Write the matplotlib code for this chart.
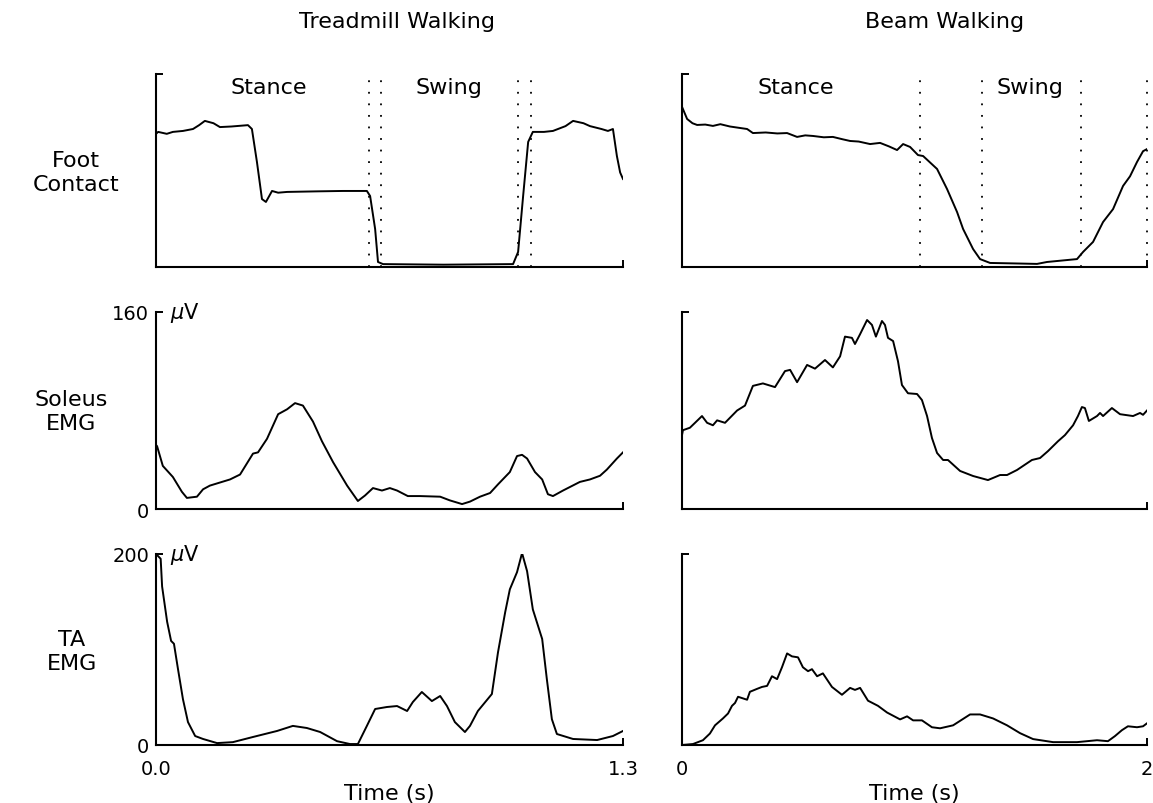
import numpy as np
import matplotlib
matplotlib.use("Agg")
import matplotlib.pyplot as plt
import matplotlib.transforms as mtransforms

plt.rcParams['font.family'] = ['DejaVu Sans']

# ---------------- data ----------------
# Treadmill walking, 0 - 1.3 s
tm_foot_t = [0.0, 0.006, 0.030, 0.047, 0.075, 0.103, 0.120, 0.136, 0.160, 0.178, 0.210, 0.256, 0.267,
             0.281, 0.295, 0.306, 0.323, 0.340, 0.365, 0.450, 0.520, 0.587, 0.596, 0.610, 0.618,
             0.632, 0.800, 0.994, 1.008, 1.022, 1.036, 1.049, 1.080, 1.105, 1.140, 1.161, 1.190,
             1.208, 1.240, 1.258, 1.272, 1.283, 1.292, 1.300]
tm_foot = [0.69, 0.70, 0.69, 0.70, 0.705, 0.715, 0.735, 0.757, 0.745, 0.725, 0.728, 0.735, 0.715,
           0.544, 0.352, 0.337, 0.394, 0.385, 0.389, 0.392, 0.394, 0.394, 0.368, 0.197, 0.026,
           0.015, 0.012, 0.015, 0.078, 0.368, 0.648, 0.700, 0.700, 0.705, 0.730, 0.757, 0.745,
           0.730, 0.715, 0.705, 0.715, 0.575, 0.490, 0.456]

tm_sol_t = [0.0, 0.003, 0.019, 0.047, 0.072, 0.086, 0.114, 0.131, 0.150, 0.206, 0.234, 0.270,
            0.284, 0.309, 0.340, 0.365, 0.387, 0.409, 0.437, 0.462, 0.493, 0.532, 0.562, 0.582,
            0.604, 0.629, 0.651, 0.671, 0.701, 0.735, 0.791, 0.818, 0.852, 0.874, 0.902, 0.930,
            0.952, 0.985, 1.005, 1.019, 1.033, 1.055, 1.075, 1.091, 1.105, 1.133, 1.180, 1.208,
            1.236, 1.255, 1.283, 1.300]
tm_sol = [52, 51, 35, 26, 14, 9, 10, 16, 19, 24, 28, 45,
          46, 57, 77, 81, 86, 84, 71, 55, 38, 19, 6.5, 11,
          17, 15, 17, 15, 10.5, 10.5, 10, 7, 4, 6, 10, 13,
          20, 30, 43, 44, 41, 30, 24, 12, 10.5, 15, 22, 24,
          27, 32, 41, 46]

tm_ta_t = [0.0, 0.013, 0.017, 0.031, 0.042, 0.050, 0.061, 0.075, 0.089, 0.109, 0.131, 0.170,
           0.214, 0.270, 0.337, 0.381, 0.420, 0.457, 0.504, 0.540, 0.562, 0.587, 0.610, 0.643,
           0.671, 0.699, 0.715, 0.740, 0.768, 0.791, 0.810, 0.832, 0.860, 0.874, 0.896, 0.935,
           0.952, 0.972, 0.985, 1.005, 1.019, 1.033, 1.049, 1.075, 1.088, 1.102, 1.116, 1.161,
           1.228, 1.272, 1.300]
tm_ta = [200, 195, 166, 129, 109, 106, 80, 48, 24, 9.4, 6.3, 2,
         3, 8.4, 14.7, 20, 17.8, 13.6, 4, 1, 1, 20, 37.7, 39.8,
         40.8, 35.6, 45, 55.5, 46, 51.3, 40.8, 24, 13.6, 20, 35.6, 53.4,
         97, 139, 163, 181, 201, 182, 142, 111, 69, 27, 11.5, 6.3,
         5.2, 9.4, 14.7]

# Beam walking, 0 - 2 s
bm_foot_t = [0.0, 0.022, 0.045, 0.065, 0.100, 0.133, 0.165, 0.206, 0.240, 0.280, 0.305, 0.360,
             0.410, 0.452, 0.495, 0.530, 0.563, 0.610, 0.649, 0.690, 0.723, 0.760, 0.809, 0.852,
             0.890, 0.925, 0.951, 0.981, 1.015, 1.037, 1.097, 1.140, 1.183, 1.209, 1.252, 1.282,
             1.325, 1.450, 1.527, 1.570, 1.699, 1.725, 1.768, 1.811, 1.854, 1.897, 1.927, 1.957,
             1.983, 2.0]
bm_foot = [0.83, 0.767, 0.745, 0.736, 0.738, 0.731, 0.740, 0.728, 0.722, 0.715, 0.694, 0.697,
           0.692, 0.694, 0.674, 0.682, 0.679, 0.672, 0.674, 0.662, 0.653, 0.650, 0.637, 0.643,
           0.625, 0.606, 0.637, 0.622, 0.580, 0.575, 0.508, 0.404, 0.285, 0.197, 0.093, 0.041,
           0.021, 0.018, 0.016, 0.026, 0.041, 0.078, 0.130, 0.233, 0.300, 0.420, 0.470, 0.544,
           0.600, 0.611]

bm_sol_t = [0.0, 0.004, 0.034, 0.056, 0.086, 0.108, 0.133, 0.151, 0.185, 0.237, 0.271, 0.305,
            0.348, 0.400, 0.443, 0.465, 0.495, 0.538, 0.572, 0.615, 0.649, 0.680, 0.701, 0.731,
            0.744, 0.766, 0.796, 0.817, 0.834, 0.860, 0.873, 0.886, 0.908, 0.929, 0.946, 0.972,
            1.011, 1.032, 1.054, 1.075, 1.097, 1.123, 1.144, 1.196, 1.252, 1.316, 1.368, 1.398,
            1.441, 1.505, 1.540, 1.574, 1.617, 1.647, 1.682, 1.703, 1.720, 1.733, 1.750, 1.785,
            1.798, 1.811, 1.849, 1.884, 1.940, 1.970, 1.983, 2.0]
bm_sol = [60, 64, 66, 70, 75.5, 70, 68, 72, 70, 80, 84, 100,
          102, 99, 112, 113, 103, 117, 114, 121, 115, 124, 140, 139,
          134, 142, 153.5, 149.5, 140, 152.7, 149.5, 139, 136.4, 120, 100.7, 94,
          93.4, 88.5, 75.5, 57.7, 45.5, 39.8, 39.8, 30.9, 26.8, 23.5, 27.6, 27.6,
          31.7, 39.8, 41.4, 47, 55, 60, 68, 75.5, 82.8, 82, 71.5, 75.5,
          78, 75.5, 82, 77, 75.5, 78, 76.5, 80]

bm_ta_t = [0.0, 0.047, 0.090, 0.120, 0.142, 0.176, 0.198, 0.215, 0.228, 0.241, 0.280, 0.292,
           0.323, 0.344, 0.366, 0.387, 0.409, 0.430, 0.452, 0.473, 0.499, 0.520, 0.542, 0.559,
           0.581, 0.606, 0.645, 0.688, 0.723, 0.744, 0.766, 0.800, 0.843, 0.882, 0.938, 0.968,
           0.994, 1.032, 1.075, 1.110, 1.166, 1.239, 1.282, 1.338, 1.398, 1.454, 1.510, 1.596,
           1.699, 1.785, 1.832, 1.862, 1.892, 1.918, 1.957, 1.983, 2.0]
bm_ta = [0, 1, 5, 12, 20.6, 27.8, 33, 41, 44, 50.5, 47.4, 55.7,
         58.8, 60.8, 61.9, 72, 69, 81.4, 95.9, 92.8, 91.8, 81.4, 77.3, 79.4,
         72, 75, 60.8, 52.6, 59.8, 57.7, 59.8, 46.4, 41, 34, 26.8, 30,
         25.8, 25.8, 18.6, 17.5, 20.6, 32, 32, 27.8, 20.6, 12.4, 6.2, 3,
         3, 5, 4, 9.3, 15.5, 19.6, 18.6, 19.6, 22.7]

# gait phase boundaries (s)
tm_phase_lines = [0.593, 0.626, 1.008, 1.044]
bm_phase_lines = [1.024, 1.290, 1.716, 2.0]

W, H = 1153, 804
fig = plt.figure(figsize=(W / 100, H / 100), dpi=100)

FS = 16
TFS = 14


def px_axes(left, right, top, bottom):
    return fig.add_axes([left / W, 1 - bottom / H, (right - left) / W, (bottom - top) / H])


def style(ax, xmax, ymax):
    for s in ['top', 'right']:
        ax.spines[s].set_visible(False)
    for s in ['left', 'bottom']:
        ax.spines[s].set_linewidth(1.5)
    ax.set_xlim(0, xmax)
    ax.set_ylim(0, ymax)
    ax.set_xticks([0, xmax])
    ax.set_yticks([0, ymax])
    ax.tick_params(direction='in', length=5, width=1.4, labelsize=TFS, pad=5)
    ax.tick_params(axis='x', pad=10)
    ax.set_xticklabels([])
    ax.set_yticklabels([])


LW = 1.4
cols = [(156, 623, 1.3), (682, 1147, 2.0)]
rows = [(75, 268), (313, 510), (555, 746)]

axes = {}
for r, (top, bot) in enumerate(rows):
    for c, (l, rr, xmax) in enumerate(cols):
        axes[r, c] = px_axes(l, rr, top, bot)

ymaxes = [1.0, 160, 200]
for (r, c), ax in axes.items():
    style(ax, cols[c][2], ymaxes[r])

# row 1: foot contact with stance / swing boundaries
ax = axes[0, 0]
ax.plot(tm_foot_t, tm_foot, color='black', lw=LW)
ax2 = axes[0, 1]
ax2.plot(bm_foot_t, bm_foot, color='black', lw=LW)
for a, lines in [(ax, tm_phase_lines), (ax2, bm_phase_lines)]:
    for x in lines:
        a.axvline(x, color='black', lw=1.3, linestyle=(0, (1, 5.4)), clip_on=False)

for a, labels in [(ax, [(0.315, 'Stance'), (0.816, 'Swing')]),
                  (ax2, [(0.490, 'Stance'), (1.497, 'Swing')])]:
    tr = mtransforms.blended_transform_factory(a.transData, a.transAxes)
    for x, s in labels:
        a.text(x, 0.935, s, transform=tr, ha='center', va='center', fontsize=FS)

# row 2: soleus
axes[1, 0].plot(tm_sol_t, tm_sol, color='black', lw=LW)
axes[1, 1].plot(bm_sol_t, bm_sol, color='black', lw=LW)
axes[1, 0].set_yticklabels(['0', '160'])

# row 3: TA
axes[2, 0].plot(tm_ta_t, tm_ta, color='black', lw=LW)
axes[2, 1].plot(bm_ta_t, bm_ta, color='black', lw=LW)
axes[2, 0].set_yticklabels(['0', '200'])
axes[2, 0].set_xticklabels(['0.0', '1.3'])
axes[2, 1].set_xticklabels(['0', '2'])
axes[2, 0].set_xlabel('Time (s)', fontsize=FS, labelpad=4)
axes[2, 1].set_xlabel('Time (s)', fontsize=FS, labelpad=4)

for r in (1, 2):
    axes[r, 0].text(0.03, 1.0, r'$\mu$V', transform=axes[r, 0].transAxes,
                    ha='left', va='center', fontsize=TFS + 1)

# column titles and row labels
fig.text(397 / W, 1 - 22 / H, 'Treadmill Walking', ha='center', va='center', fontsize=FS)
fig.text(945 / W, 1 - 22 / H, 'Beam Walking', ha='center', va='center', fontsize=FS)
fig.text(76 / W, 1 - 173 / H, 'Foot\nContact', ha='center', va='center', fontsize=FS, linespacing=1.25)
fig.text(71 / W, 1 - 412 / H, 'Soleus\nEMG', ha='center', va='center', fontsize=FS, linespacing=1.25)
fig.text(72 / W, 1 - 652 / H, 'TA\nEMG', ha='center', va='center', fontsize=FS, linespacing=1.25)

fig.savefig('out.png', dpi=100, facecolor='white')
